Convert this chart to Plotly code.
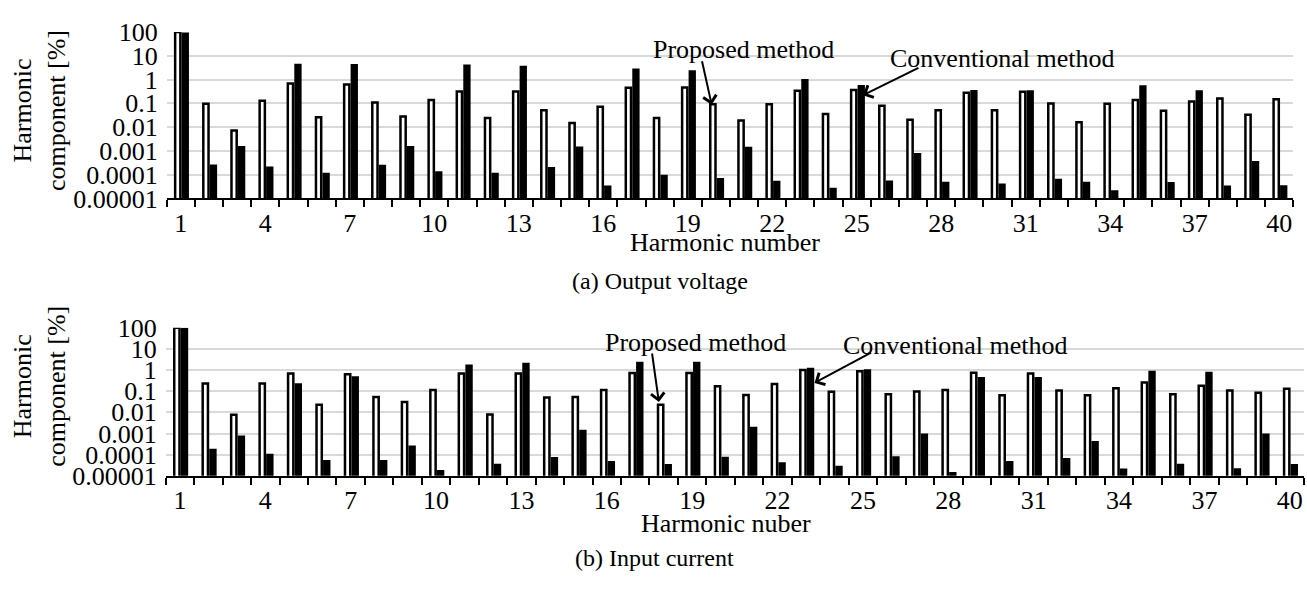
import math
import plotly.graph_objects as go

W, H = 1307, 590

harmonics = list(range(1, 41))
x_tick_vals = [1, 4, 7, 10, 13, 16, 19, 22, 25, 28, 31, 34, 37, 40]
x_tick_text = ["1", "4", "7", "10", "13", "16", "19", "22", "25", "28", "31", "34", "37", "40"]
y_tick_vals = [1e-5, 1e-4, 1e-3, 1e-2, 1e-1, 1, 10, 100]
y_tick_text = ["0.00001", "0.0001", "0.001", "0.01", "0.1", "1", "10", "100"]

voltage_proposed = [100, 0.096, 0.0072, 0.13, 0.69, 0.026, 0.63, 0.11, 0.028, 0.14,
                    0.32, 0.024, 0.32, 0.052, 0.015, 0.073, 0.45, 0.024, 0.47, 0.093,
                    0.019, 0.091, 0.34, 0.036, 0.37, 0.08, 0.0205, 0.052, 0.28, 0.052,
                    0.31, 0.10, 0.016, 0.097, 0.14, 0.049, 0.12, 0.16, 0.033, 0.15]
voltage_conventional = [95, 0.00027, 0.0016, 0.00022, 4.6, 0.00012, 4.5, 0.00026, 0.0016, 0.00014,
                        4.3, 0.00012, 3.8, 0.00021, 0.00155, 0.000035, 2.95, 0.0001, 2.5, 0.000073,
                        0.0015, 0.000056, 1.05, 0.000028, 0.6, 0.000057, 0.00081, 0.00005, 0.37, 0.000043,
                        0.36, 0.000068, 0.00005, 0.000022, 0.58, 0.000049, 0.36, 0.000035, 0.00038, 0.000036]
current_proposed = [100, 0.23, 0.0078, 0.23, 0.68, 0.023, 0.63, 0.054, 0.031, 0.115,
                    0.68, 0.008, 0.68, 0.05, 0.054, 0.115, 0.72, 0.023, 0.72, 0.17,
                    0.066, 0.22, 1.0, 0.094, 0.87, 0.071, 0.097, 0.115, 0.75, 0.064,
                    0.68, 0.108, 0.064, 0.14, 0.26, 0.071, 0.18, 0.108, 0.085, 0.13]
current_conventional = [100, 0.00019, 0.00081, 0.00011, 0.24, 0.000056, 0.51, 0.000056, 0.00027, 0.000019,
                        1.85, 0.000037, 2.2, 0.000077, 0.0015, 0.00005, 2.45, 0.000036, 2.5, 0.00008,
                        0.0021, 0.000044, 1.3, 0.00003, 1.1, 0.000085, 0.001, 0.000015, 0.47, 0.00005,
                        0.47, 0.00007, 0.00044, 0.000022, 0.93, 0.000037, 0.83, 0.000023, 0.001, 0.000036]

FONT = "Liberation Serif"
FS = 26

fig = go.Figure()

def add_pair(prop, conv, xa, ya):
    fig.add_trace(go.Bar(x=harmonics, y=prop, xaxis=xa, yaxis=ya,
                         offset=-0.2, width=0.185,
                         marker=dict(color="white", line=dict(color="black", width=2.5)),
                         showlegend=False))
    fig.add_trace(go.Bar(x=harmonics, y=conv, xaxis=xa, yaxis=ya,
                         offset=0.03, width=0.26,
                         marker=dict(color="black", line=dict(width=0)),
                         showlegend=False))

add_pair(voltage_proposed, voltage_conventional, "x", "y")
add_pair(current_proposed, current_conventional, "x2", "y2")

def px_x(p):
    return p / W

def px_y(p):
    return 1 - p / H

boundaries = [h - 0.5 for h in harmonics] + [harmonics[-1] + 0.5]

def xaxis_cfg(x0, x1, anchor):
    return dict(domain=[px_x(x0), px_x(x1)], anchor=anchor, range=[0.5, 40.5],
                tickmode="array", tickvals=x_tick_vals, ticktext=x_tick_text,
                ticks="", ticklen=0, showgrid=False, zeroline=False,
                showline=True, linecolor="black", linewidth=2,
                ticklabelstandoff=0,
                tickfont=dict(family=FONT, size=FS, color="black"),
                minor=dict(tickmode="array", tickvals=boundaries, ticks="outside",
                           ticklen=7, tickwidth=2, tickcolor="black", showgrid=False))

def yaxis_cfg(y0, y1, anchor):
    return dict(domain=[px_y(y1), px_y(y0)], anchor=anchor, type="log", range=[-5, 2],
                tickmode="array", tickvals=y_tick_vals, ticktext=y_tick_text,
                ticks="", showline=False, zeroline=False,
                showgrid=True, gridcolor="#d9d9d9", gridwidth=2,
                ticklabelstandoff=8,
                tickfont=dict(family=FONT, size=FS, color="black"))

fig.update_layout(
    width=W, height=H, margin=dict(l=0, r=0, t=0, b=0),
    paper_bgcolor="white", plot_bgcolor="white",
    barmode="overlay",
    xaxis=xaxis_cfg(166.7, 1293.3, "y"),
    yaxis=yaxis_cfg(19, 194, "x"),
    xaxis2=xaxis_cfg(165.7, 1304, "y2"),
    yaxis2=yaxis_cfg(330, 485.7, "x2"),
    font=dict(family=FONT, size=FS, color="black"),
)

def text_ann(txt, cx, cy, size=FS, angle=0):
    fig.add_annotation(text=txt, xref="paper", yref="paper", x=px_x(cx), y=px_y(cy),
                       xanchor="center", yanchor="middle", showarrow=False,
                       textangle=angle, font=dict(family=FONT, size=size, color="black"))

def arrow_ann(xa, ya, x, yv, ax, ay):
    fig.add_annotation(text="", xref=xa, yref=ya, x=x, y=math.log10(yv),
                       ax=ax, ay=ay, showarrow=True, arrowhead=4, arrowsize=1.3,
                       arrowwidth=2, arrowcolor="black")

# y-axis titles
text_ann("Harmonic<br>component [%]", 40, 102, angle=-90)
text_ann("Harmonic<br>component [%]", 40, 392, angle=-90)
# x-axis titles
text_ann("Harmonic number", 725, 240)
text_ann("Harmonic nuber", 726, 536)
# captions
text_ann("(a) Output voltage", 660, 281, size=24)
text_ann("(b) Input current", 654, 572, size=24)
# method labels
text_ann("Proposed method", 743, 37)
text_ann("Conventional method", 1002, 47)
text_ann("Proposed method", 695, 345)
text_ann("Conventional method", 955, 349)
# arrows
arrow_ann("x", "y", 19.85, 0.088, -10, -45)
arrow_ann("x", "y", 25.22, 0.22, 57, -28)
arrow_ann("x2", "y2", 17.83, 0.031, -7, -50)
arrow_ann("x2", "y2", 23.3, 0.247, 58, -31)

fig.write_html("out.html")
